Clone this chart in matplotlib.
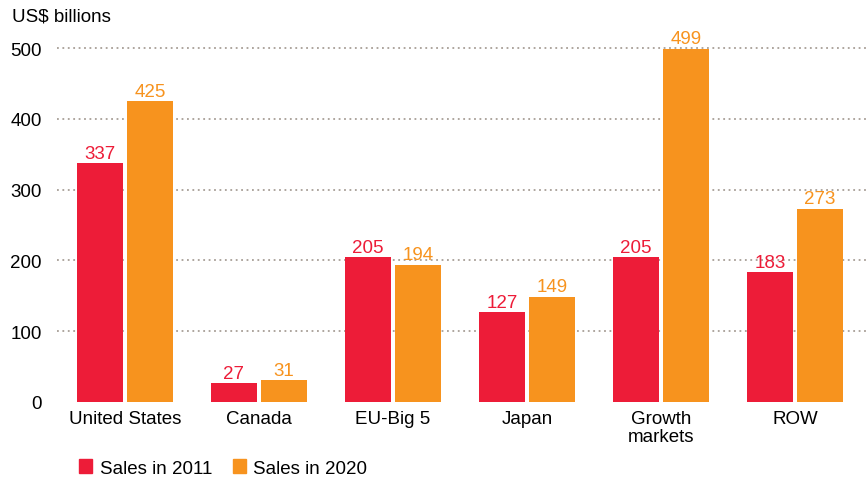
import numpy as np
import matplotlib.pyplot as plt
from matplotlib.patches import Patch

plt.rcParams['font.family'] = ['Liberation Sans', 'DejaVu Sans']

regions = ['United States', 'Canada', 'EU-Big 5', 'Japan', 'Growth\nmarkets', 'ROW']
sales_2011 = [337, 27, 205, 127, 205, 183]
sales_2020 = [425, 31, 194, 149, 499, 273]
yticks = [0, 100, 200, 300, 400, 500]

red = '#ED1C38'
orange = '#F7931E'
fs = 13.5

fig = plt.figure(figsize=(8.67, 4.81), dpi=100)
ax = fig.add_axes([57 / 867, 78 / 481, 810 / 867, 373 / 481])

x = np.arange(len(regions))
w = 0.343
off = 0.187

b1 = ax.bar(x - off, sales_2011, w, color=red, zorder=3)
b2 = ax.bar(x + off, sales_2020, w, color=orange, zorder=3)

for bars, col in [(b1, red), (b2, orange)]:
    for b in bars:
        ax.annotate(f'{int(b.get_height())}',
                    (b.get_x() + b.get_width() / 2, b.get_height()),
                    xytext=(0, 1), textcoords='offset points',
                    ha='center', va='bottom', color=col, fontsize=fs)

ax.set_xlim(-0.507, 5.537)
ax.set_ylim(0, 527)

# dotted gridlines
for y in yticks[1:]:
    ax.axhline(y, color='#a79e96', linestyle=(0, (1, 2)), linewidth=1.3, zorder=1)

ax.set_yticks(yticks)
ax.set_yticklabels([str(v) for v in yticks], fontsize=fs)
ax.tick_params(axis='y', length=0, pad=11)
ax.set_xticks(x)
ax.set_xticklabels(regions, fontsize=fs, linespacing=1.05)
ax.tick_params(axis='x', length=0, pad=6)

for s in ax.spines.values():
    s.set_visible(False)

fig.text(12 / 867, 1 - 17 / 481, 'US$ billions', fontsize=fs, va='center', ha='left')

handles = [Patch(color=red, label='Sales in 2011'), Patch(color=orange, label='Sales in 2020')]
fig.legend(handles=handles, loc='center left', bbox_to_anchor=(62 / 867, 1 - 469 / 481),
           ncol=2, frameon=False, fontsize=fs, handlelength=0.7, handleheight=0.7,
           handletextpad=0.4, columnspacing=1.1)

fig.savefig('out.png', dpi=100)
